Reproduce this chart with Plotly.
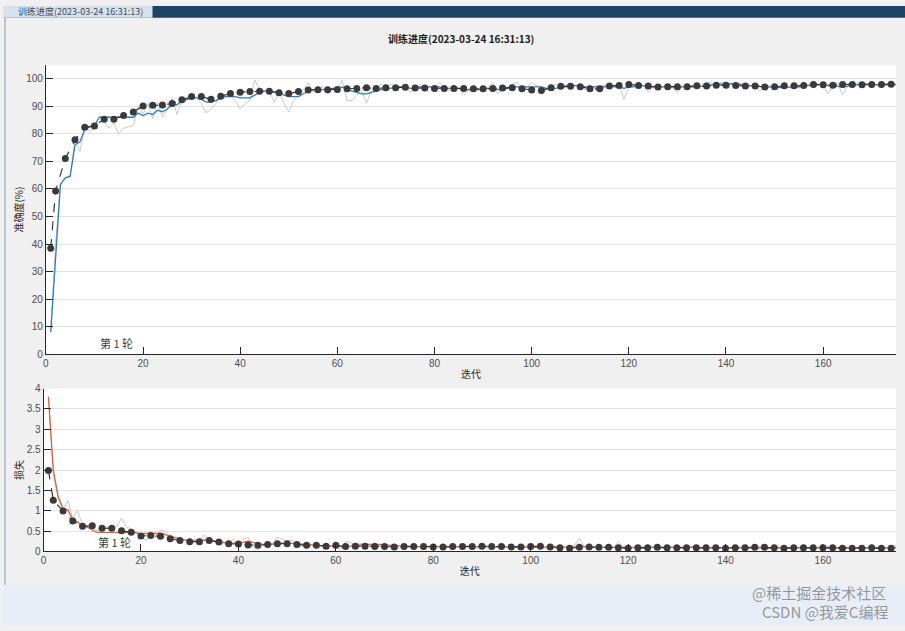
import plotly.graph_objects as go

W, H = 905, 631

iterations = list(range(1, 176))

train_acc_raw = [
    8, 40, 62, 64, 65, 78, 73.5, 82, 81, 82,
    84.5, 84.5, 82, 84, 80, 82, 82.5, 83, 90, 87,
    91, 85.5, 91.5, 86, 89, 93, 87, 92, 92, 93.5,
    93, 91, 87.5, 89, 91, 94.5, 94, 94, 92, 89,
    91, 92, 99.5, 96, 95.5, 95.5, 91.5, 95, 91, 88,
    92, 94, 96, 98.5, 95, 96, 97, 94.5, 96, 96,
    99.5, 92, 92, 94, 96, 91, 96, 96.5, 98, 97,
    98, 97, 97, 97.5, 95, 96.5, 98, 97, 97, 96.5,
    98.5, 97, 95.5, 96.5, 97, 94, 96, 97, 96.5, 96,
    97, 98.5, 94.5, 96, 97, 98, 98.5, 97, 97, 98.5,
    97.5, 97, 96, 97, 98, 97, 97.5, 98.5, 97.5, 97,
    96, 97.5, 97, 97.5, 97.5, 98, 97, 98, 92.5, 97,
    98, 98, 97.5, 95, 97, 97.5, 97, 97, 96.5, 95,
    97, 97.5, 97, 97, 98, 98.5, 98.5, 98, 98.5, 98.5,
    98, 98, 98, 97.5, 97, 97.5, 95.5, 97, 97.5, 97,
    96.5, 97, 97, 96.5, 97, 97.5, 98, 98.5, 98, 97.5,
    94.5, 97.5, 98.5, 94, 97.5, 98, 98.5, 98.5, 98, 98,
    97.5, 98, 97.5, 98, 98,
]

train_acc_smooth = [
    8, 36, 61.5, 64, 64.5, 76, 77, 81.5, 82.5, 83,
    86, 86, 86, 86, 86, 86, 86, 86, 87.5, 86.5,
    87.5, 87, 88.5, 88, 89, 90.5, 90.5, 92, 92.5, 93,
    93, 92.5, 91.5, 91.5, 92, 93, 93.5, 93.5, 93.5, 93,
    93, 93, 94, 95, 95.5, 95.5, 95, 95.5, 94, 93.5,
    93.5, 93.5, 94.5, 95.5, 96, 96, 96, 96, 96.5, 96.5,
    97, 96, 95.5, 95, 94.5, 94.5, 95, 95.5, 96, 96,
    96.5, 97, 97, 97, 96.5, 96.5, 97, 97, 97, 97,
    97, 96.5, 96.5, 96.5, 96.5, 96, 96, 96, 96, 96,
    96.5, 96.5, 96, 96, 96.5, 97, 97, 97, 97, 97,
    97, 97, 96.5, 96.5, 96.5, 97, 97, 97.5, 97.5, 97.5,
    97, 97, 97, 97, 97, 97.5, 97, 97, 96.5, 97,
    97, 97.5, 97.5, 97, 97, 97, 97, 97, 96.8, 96.8,
    97, 97, 97, 97, 97.2, 97.5, 97.8, 98, 98, 98.2,
    98.2, 98, 98, 97.8, 97.5, 97.5, 97.2, 97, 97, 96.8,
    96.8, 96.8, 96.8, 96.8, 97, 97.2, 97.5, 97.8, 97.8, 97.8,
    97.5, 97.5, 97.2, 97, 97.2, 97.5, 97.8, 97.8, 97.8, 97.8,
    97.8, 97.8, 97.8, 97.8, 97.8,
]

val_iter = [1] + list(range(2, 175, 2))

val_acc = [
    38.5, 59.2, 71, 77.8, 82.4, 82.8, 85.3, 85.3, 86.6, 87.9,
    90.1, 90.3, 90.4, 91, 92.3, 93.5, 93.5, 92.5, 93.6, 94.6,
    95.1, 95.3, 95.4, 95.4, 94.9, 94.6, 95.3, 95.9, 96, 96,
    96.1, 96.3, 96.4, 96.7, 96.4, 96.7, 96.7, 96.9, 96.6, 96.6,
    96.4, 96.4, 96.4, 96.4, 96.3, 96.3, 96.4, 96.6, 96.7, 96.3,
    95.9, 95.7, 96.7, 97.2, 97.2, 97.1, 96.3, 96.3, 97.3, 97.5,
    97.9, 97.5, 97.3, 97, 97.1, 97.1, 97.1, 97.4, 97.3, 97.6,
    97.6, 97.5, 97.3, 97.3, 97, 97.1, 97.4, 97.4, 97.5, 97.9,
    97.8, 97.6, 97.9, 97.9, 97.8, 97.9, 97.9, 98,
]

train_loss_raw = [
    3.8, 1.9, 1.3, 1.0, 1.25, 0.8, 1.0, 0.65, 0.6, 0.55,
    0.52, 0.5, 0.6, 0.62, 0.6, 0.82, 0.6, 0.55, 0.45, 0.35,
    0.27, 0.45, 0.35, 0.52, 0.5, 0.4, 0.35, 0.3, 0.3, 0.25,
    0.3, 0.28, 0.4, 0.3, 0.25, 0.2, 0.2, 0.22, 0.3, 0.18,
    0.3, 0.35, 0.1, 0.05, 0.15, 0.2, 0.18, 0.35, 0.3, 0.25,
    0.28, 0.15, 0.12, 0.15, 0.13, 0.15, 0.1, 0.18, 0.12, 0.1,
    0.05, 0.25, 0.22, 0.15, 0.2, 0.18, 0.12, 0.22, 0.12, 0.1,
    0.14, 0.1, 0.08, 0.12, 0.15, 0.1, 0.12, 0.08, 0.13, 0.1,
    0.12, 0.09, 0.11, 0.14, 0.1, 0.12, 0.16, 0.1, 0.08, 0.12,
    0.15, 0.11, 0.09, 0.13, 0.1, 0.07, 0.12, 0.1, 0.14, 0.09,
    0.1, 0.12, 0.08, 0.11, 0.09, 0.07, 0.1, 0.12, 0.15, 0.32,
    0.12, 0.09, 0.1, 0.08, 0.1, 0.12, 0.1, 0.24, 0.1, 0.08,
    0.09, 0.1, 0.07, 0.1, 0.12, 0.09, 0.08, 0.1, 0.11, 0.09,
    0.07, 0.1, 0.13, 0.09, 0.08, 0.1, 0.07, 0.09, 0.1, 0.08,
    0.07, 0.09, 0.11, 0.08, 0.1, 0.09, 0.12, 0.08, 0.07, 0.1,
    0.09, 0.08, 0.1, 0.07, 0.09, 0.11, 0.08, 0.07, 0.09, 0.08,
    0.12, 0.08, 0.06, 0.1, 0.08, 0.07, 0.09, 0.08, 0.07, 0.08,
    0.09, 0.07, 0.08, 0.1, 0.15,
]

train_loss_smooth = [
    3.8, 2.0, 1.35, 1.05, 1.02, 0.78, 0.72, 0.62, 0.6, 0.52,
    0.47, 0.47, 0.47, 0.47, 0.47, 0.47, 0.47, 0.47, 0.46, 0.43,
    0.44, 0.45, 0.44, 0.45, 0.42, 0.36, 0.34, 0.3, 0.28, 0.26,
    0.25, 0.26, 0.28, 0.27, 0.25, 0.23, 0.22, 0.21, 0.21, 0.2,
    0.22, 0.25, 0.22, 0.19, 0.17, 0.17, 0.18, 0.19, 0.2, 0.21,
    0.2, 0.19, 0.17, 0.16, 0.15, 0.15, 0.14, 0.14, 0.13, 0.13,
    0.11, 0.11, 0.13, 0.15, 0.16, 0.17, 0.17, 0.18, 0.17, 0.16,
    0.15, 0.14, 0.13, 0.12, 0.12, 0.12, 0.12, 0.11, 0.11, 0.11,
    0.11, 0.11, 0.11, 0.12, 0.12, 0.12, 0.12, 0.12, 0.11, 0.11,
    0.12, 0.12, 0.11, 0.11, 0.11, 0.1, 0.1, 0.11, 0.11, 0.11,
    0.11, 0.11, 0.1, 0.1, 0.1, 0.1, 0.1, 0.1, 0.11, 0.12,
    0.12, 0.11, 0.11, 0.1, 0.1, 0.1, 0.1, 0.11, 0.11, 0.1,
    0.1, 0.1, 0.1, 0.1, 0.1, 0.1, 0.1, 0.1, 0.1, 0.1,
    0.1, 0.1, 0.1, 0.1, 0.09, 0.09, 0.09, 0.09, 0.09, 0.09,
    0.09, 0.09, 0.09, 0.09, 0.09, 0.09, 0.09, 0.09, 0.09, 0.09,
    0.09, 0.09, 0.09, 0.09, 0.09, 0.09, 0.09, 0.09, 0.09, 0.09,
    0.09, 0.09, 0.08, 0.08, 0.08, 0.08, 0.08, 0.08, 0.08, 0.08,
    0.08, 0.08, 0.08, 0.08, 0.09,
]

val_loss = [
    1.99, 1.26, 0.99, 0.75, 0.62, 0.63, 0.57, 0.57, 0.51, 0.47,
    0.38, 0.39, 0.37, 0.31, 0.27, 0.24, 0.24, 0.27, 0.23, 0.19,
    0.18, 0.16, 0.15, 0.17, 0.19, 0.19, 0.17, 0.15, 0.15, 0.13,
    0.15, 0.12, 0.13, 0.13, 0.12, 0.12, 0.11, 0.12, 0.12, 0.12,
    0.11, 0.11, 0.12, 0.12, 0.12, 0.13, 0.12, 0.12, 0.11, 0.11,
    0.12, 0.13, 0.11, 0.09, 0.08, 0.1, 0.11, 0.1, 0.1, 0.09,
    0.08, 0.09, 0.09, 0.1, 0.09, 0.09, 0.09, 0.09, 0.09, 0.09,
    0.08, 0.09, 0.09, 0.1, 0.1, 0.09, 0.08, 0.09, 0.09, 0.09,
    0.09, 0.09, 0.08, 0.08, 0.08, 0.09, 0.08, 0.08,
]

title_text = "训练进度(2023-03-24 16:31:13)"
epoch_label = "第 1 轮"

CJK = "Noto Sans CJK SC"
TICKFONT = dict(family="Liberation Sans, Arial", size=10, color="#4d4d4d")

def px(x):
    return x / W

def py(y):
    return 1 - y / H

fig = go.Figure()

# --- accuracy panel
fig.add_trace(go.Scatter(x=iterations, y=train_acc_raw, mode="lines",
                         line=dict(color="#c3cad2", width=1), xaxis="x", yaxis="y",
                         showlegend=False, hoverinfo="skip"))
fig.add_trace(go.Scatter(x=iterations, y=train_acc_smooth, mode="lines",
                         line=dict(color="#2f7fb8", width=1.3), xaxis="x", yaxis="y",
                         showlegend=False))
fig.add_trace(go.Scatter(x=val_iter, y=val_acc, mode="lines+markers",
                         line=dict(color="#262626", width=1.1, dash="dash"),
                         marker=dict(color="#3a3a3a", size=7), xaxis="x", yaxis="y",
                         showlegend=False))

# --- loss panel
fig.add_trace(go.Scatter(x=iterations, y=train_loss_raw, mode="lines",
                         line=dict(color="#cdc6c2", width=1), xaxis="x2", yaxis="y2",
                         showlegend=False, hoverinfo="skip"))
fig.add_trace(go.Scatter(x=iterations, y=train_loss_smooth, mode="lines",
                         line=dict(color="#d9623b", width=1.3), xaxis="x2", yaxis="y2",
                         showlegend=False))
fig.add_trace(go.Scatter(x=val_iter, y=val_loss, mode="lines+markers",
                         line=dict(color="#262626", width=1.1, dash="dash"),
                         marker=dict(color="#3a3a3a", size=7), xaxis="x2", yaxis="y2",
                         showlegend=False))

axis_common = dict(showline=True, linecolor="#262626", linewidth=1,
                   ticks="inside", ticklen=7, tickcolor="#262626", tickwidth=1,
                   tickfont=TICKFONT, zeroline=False)

xticks = [0, 20, 40, 60, 80, 100, 120, 140, 160]

fig.update_layout(
    width=W, height=H,
    margin=dict(l=0, r=0, t=0, b=0),
    paper_bgcolor="#f0f0f0",
    plot_bgcolor="white",
    xaxis=dict(domain=[px(43), px(896)], range=[0, 175], anchor="y",
               tickvals=xticks, showgrid=False,
               title=dict(text="迭代", font=dict(family=CJK, size=10, color="#262626"), standoff=2),
               **axis_common),
    yaxis=dict(domain=[py(355), py(60)], range=[0, 105], anchor="x",
               tickvals=list(range(0, 101, 10)), showgrid=True, gridcolor="#e3e3e3",
               title=dict(text="准确度(%)", font=dict(family=CJK, size=10, color="#262626"), standoff=0),
               **axis_common),
    xaxis2=dict(domain=[px(40.7), px(896)], range=[0, 175], anchor="y2",
                tickvals=xticks, showgrid=False,
                title=dict(text="迭代", font=dict(family=CJK, size=10, color="#262626"), standoff=2),
                **axis_common),
    yaxis2=dict(domain=[py(556), py(390)], range=[0, 4], anchor="x2",
                tickvals=[0, 0.5, 1, 1.5, 2, 2.5, 3, 3.5, 4],
                ticktext=["0", "0.5", "1", "1.5", "2", "2.5", "3", "3.5", "4"],
                showgrid=True, gridcolor="#e3e3e3",
                title=dict(text="损失", font=dict(family=CJK, size=10, color="#262626"), standoff=1),
                **axis_common),
)

shapes = [
    dict(type="rect", xref="paper", yref="paper", x0=0, x1=1, y0=py(12), y1=1,
         fillcolor="#1d4369", line=dict(width=0), layer="below"),
    dict(type="rect", xref="paper", yref="paper", x0=0, x1=px(150), y0=py(12), y1=1,
         fillcolor="#d9e1ea", line=dict(width=0), layer="below"),
    dict(type="rect", xref="paper", yref="paper", x0=0, x1=1, y0=0, y1=py(590),
         fillcolor="#e8eef7", line=dict(width=0), layer="below"),
    dict(type="line", xref="paper", yref="paper", x0=px(2), x1=px(2), y0=py(590), y1=py(12),
         line=dict(color="#7e9cc0", width=1)),
]
fig.update_layout(shapes=shapes)

annotations = [
    dict(text="<b>" + title_text + "</b>", x=px(460), y=py(33), xref="paper", yref="paper",
         showarrow=False, font=dict(family=CJK, size=10, color="#1a1a1a"),
         xanchor="center", yanchor="middle"),
    dict(text=title_text, x=px(13), y=py(6), xref="paper", yref="paper",
         showarrow=False, font=dict(family=CJK, size=9, color="#3a4a5a"),
         xanchor="left", yanchor="middle"),
    dict(text=epoch_label, x=14.5, y=4.2, xref="x", yref="y", showarrow=False,
         font=dict(family=CJK, size=11, color="#404040"), xanchor="center", yanchor="middle"),
    dict(text=epoch_label, x=14.5, y=0.22, xref="x2", yref="y2", showarrow=False,
         font=dict(family=CJK, size=11, color="#404040"), xanchor="center", yanchor="middle"),
    dict(text="@稀土掘金技术社区", x=px(888), y=py(598), xref="paper", yref="paper",
         showarrow=False, font=dict(family=CJK, size=15, color="rgba(120,120,120,0.75)"),
         xanchor="right", yanchor="middle"),
    dict(text="CSDN @我爱C编程", x=px(890), y=py(617), xref="paper", yref="paper",
         showarrow=False, font=dict(family=CJK, size=15, color="rgba(120,120,120,0.75)"),
         xanchor="right", yanchor="middle"),
]
fig.update_layout(annotations=annotations)

fig.write_html("out.html", config={"displayModeBar": False},
               post_script="document.body.style.margin='0px';")
